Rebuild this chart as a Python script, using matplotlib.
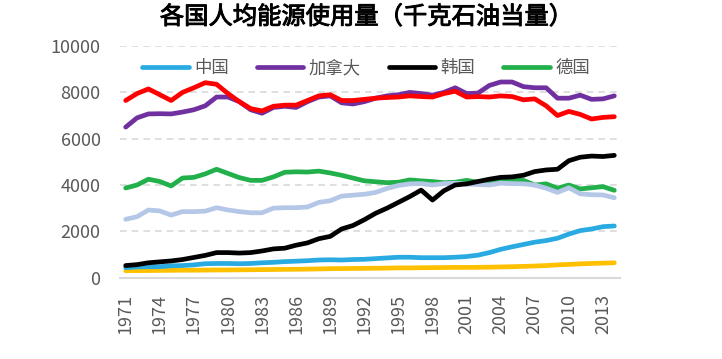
import matplotlib
matplotlib.use("Agg")
import matplotlib.pyplot as plt
from matplotlib.lines import Line2D
import matplotlib.patheffects as pe

plt.rcParams['font.family'] = ['Noto Sans CJK SC', 'DejaVu Sans']

years = list(range(1971, 2015))

usa = [7650, 7950, 8150, 7900, 7650, 8000, 8200, 8420, 8350, 7950,
       7600, 7300, 7200, 7400, 7450, 7450, 7650, 7850, 7900, 7650,
       7650, 7700, 7750, 7780, 7800, 7850, 7820, 7800, 7950, 8050,
       7800, 7820, 7800, 7850, 7820, 7680, 7720, 7420, 7000, 7180,
       7050, 6850, 6920, 6950]
canada = [6500, 6900, 7070, 7080, 7070, 7150, 7250, 7420, 7800, 7800,
          7600, 7250, 7100, 7350, 7400, 7350, 7600, 7800, 7850, 7550,
          7500, 7600, 7750, 7850, 7900, 8000, 7950, 7880, 8000, 8200,
          7950, 7970, 8300, 8450, 8450, 8250, 8200, 8200, 7750, 7750,
          7880, 7700, 7720, 7850]
germany = [3870, 4000, 4250, 4150, 3960, 4300, 4330, 4480, 4680, 4500,
           4320, 4200, 4200, 4350, 4550, 4570, 4560, 4600, 4520, 4420,
           4300, 4180, 4140, 4100, 4120, 4220, 4180, 4150, 4100, 4120,
           4200, 4120, 4160, 4180, 4190, 4200, 4000, 4050, 3860, 4000,
           3830, 3880, 3930, 3770]
japan = [2520, 2630, 2920, 2880, 2700, 2850, 2850, 2870, 3020, 2920,
         2850, 2800, 2800, 3000, 3020, 3020, 3050, 3250, 3320, 3520,
         3560, 3600, 3680, 3850, 3980, 4050, 4060, 4000, 4060, 4080,
         4040, 4020, 4000, 4080, 4060, 4050, 4000, 3860, 3680, 3880,
         3620, 3580, 3570, 3450]
korea = [520, 560, 640, 680, 720, 780, 870, 960, 1080, 1080,
         1060, 1080, 1150, 1240, 1270, 1400, 1500, 1680, 1780, 2100,
         2250, 2500, 2780, 3000, 3250, 3500, 3780, 3350, 3750, 4000,
         4050, 4150, 4250, 4330, 4350, 4420, 4580, 4650, 4680, 5050,
         5200, 5250, 5230, 5280]
china = [430, 460, 470, 470, 510, 520, 550, 600, 610, 610,
         600, 610, 640, 660, 690, 710, 730, 760, 770, 760,
         780, 790, 820, 850, 880, 880, 860, 860, 860, 880,
         910, 970, 1080, 1220, 1330, 1430, 1530, 1600, 1700, 1880,
         2030, 2100, 2200, 2230]
india = [300, 300, 305, 310, 315, 320, 320, 325, 330, 330,
         335, 340, 345, 350, 355, 360, 365, 375, 385, 390,
         395, 400, 405, 410, 420, 420, 425, 430, 435, 440,
         440, 445, 450, 460, 470, 485, 500, 520, 550, 570,
         595, 610, 625, 640]

legend_labels = ['中国', '加拿大', '韩国', '德国']
title = '各国人均能源使用量（千克石油当量）'
yticks = [0, 2000, 4000, 6000, 8000, 10000]

c_china = '#29ABE2'
c_canada = '#7030A0'
c_korea = '#000000'
c_germany = '#22B04B'
c_usa = '#FF0000'
c_japan = '#B4C7E7'
c_india = '#FFC000'

fig = plt.figure(figsize=(7.22, 3.59), dpi=100)
ax = fig.add_axes([120/722, 1-277.6/359, 500/722, 231.5/359])

x = list(range(len(years)))
lw = 3.4
kw = dict(linewidth=lw, solid_capstyle='round', solid_joinstyle='round')
ax.plot(x, india, color=c_india, zorder=3, **kw)
ax.plot(x, china, color=c_china, zorder=4, **kw)
ax.plot(x, germany, color=c_germany, zorder=5, **kw)
ax.plot(x, japan, color=c_japan, zorder=6, **kw)
ax.plot(x, korea, color=c_korea, zorder=7, **kw)
ax.plot(x, canada, color=c_canada, zorder=8, **kw)
ax.plot(x, usa, color=c_usa, zorder=9, **kw)

ax.set_xlim(-0.5, len(years) - 0.5)
ax.set_ylim(0, 10000)
ax.set_yticks(yticks)
ax.set_yticklabels([str(v) for v in yticks])
xt = x[::3]
ax.set_xticks(xt)
ax.set_xticklabels([str(years[i]) for i in xt], rotation=90)

ax.grid(axis='y', color='#D9D9D9', linestyle=(0, (4, 3)), linewidth=1.2, zorder=0)
ax.set_axisbelow(True)
for s in ['left', 'right', 'top']:
    ax.spines[s].set_visible(False)
ax.spines['bottom'].set_color('#D9D9D9')
ax.spines['bottom'].set_linewidth(1.5)
ax.tick_params(axis='both', length=0, labelsize=13, colors='#595959')
ax.tick_params(axis='y', pad=14)
ax.tick_params(axis='x', pad=12)

handles = [Line2D([0], [0], color=c, linewidth=lw, solid_capstyle='round')
           for c in [c_china, c_canada, c_korea, c_germany]]
leg = ax.legend(handles, legend_labels, loc='center', bbox_to_anchor=(366/722, 1-68/359),
                bbox_transform=fig.transFigure, ncol=4, frameon=False, fontsize=12.5,
                handlelength=2.7, handletextpad=0.3, columnspacing=1.6)
for t in leg.get_texts():
    t.set_color('#595959')

fig.text(366/722, 1-17/359, title, ha='center', va='center', fontsize=17.5,
         color='#000000',
         path_effects=[pe.withStroke(linewidth=0.7, foreground='#000000')])

fig.savefig('out.png', dpi=100)
